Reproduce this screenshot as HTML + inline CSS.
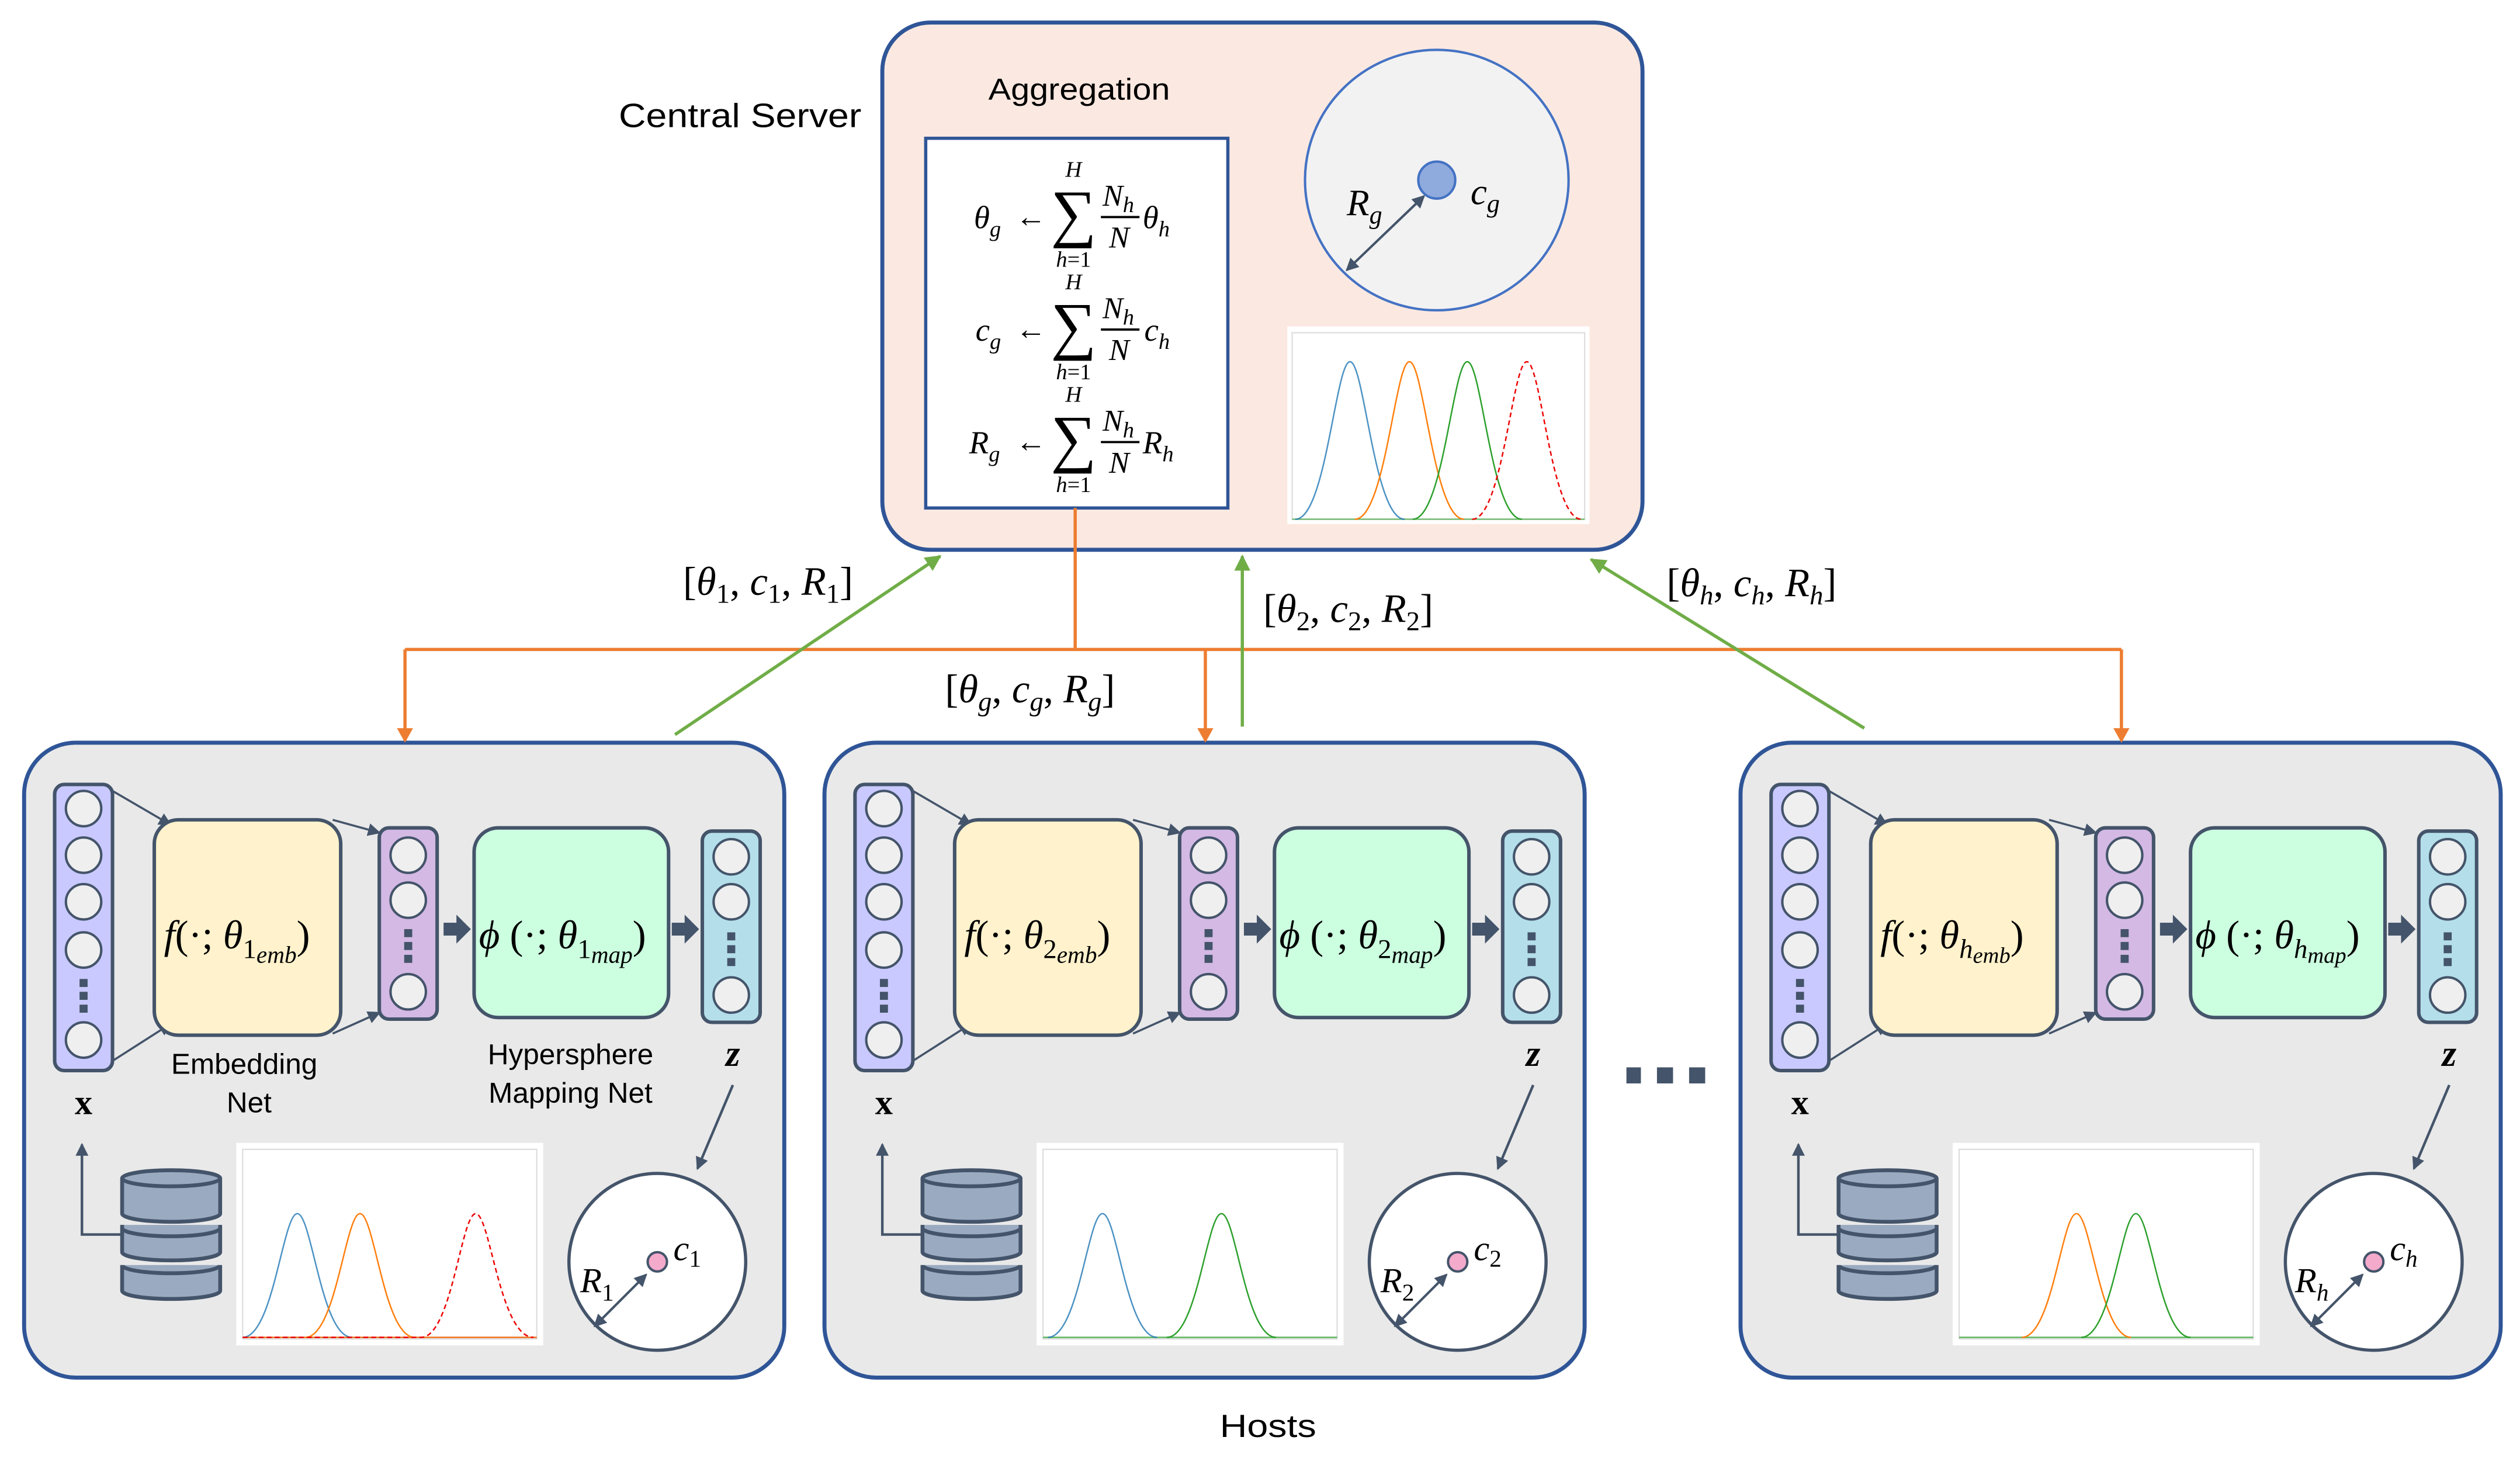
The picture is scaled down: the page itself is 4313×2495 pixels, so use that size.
<!DOCTYPE html>
<html><head><meta charset="utf-8"><style>
html,body{margin:0;padding:0;background:#fff;}
svg{display:block;}
.s{font-family:"Liberation Sans",sans-serif;}
.m{font-family:"Liberation Serif",serif;font-style:italic;}
.r{font-family:"Liberation Serif",serif;}
</style></head><body>
<svg width="4313" height="2495" viewBox="0 0 1568 907" xmlns="http://www.w3.org/2000/svg">
<defs>
<marker id="ad" markerWidth="8" markerHeight="8" refX="7" refY="4" orient="auto" markerUnits="userSpaceOnUse"><path d="M0,0 L8,4 L0,8 z" fill="#44546a"/></marker>
<marker id="as" markerWidth="8" markerHeight="8" refX="1" refY="4" orient="auto" markerUnits="userSpaceOnUse"><path d="M8,0 L0,4 L8,8 z" fill="#44546a"/></marker>
<marker id="ao" markerWidth="9" markerHeight="10" refX="8" refY="5" orient="auto" markerUnits="userSpaceOnUse"><path d="M0,0 L9,5 L0,10 z" fill="#ed7d31"/></marker>
<marker id="ag" markerWidth="10" markerHeight="10" refX="9" refY="5" orient="auto" markerUnits="userSpaceOnUse"><path d="M0,0 L10,5 L0,10 z" fill="#70ad47"/></marker>
</defs>
<g id="host">
  <rect x="15" y="462" width="473" height="395" rx="32" fill="#e9e9e9" stroke="#2f5597" stroke-width="2.5"/>
  <line x1="70" y1="492" x2="106" y2="513" stroke="#44546a" stroke-width="1.3" marker-end="url(#ad)"/>
  <line x1="70" y1="660" x2="106" y2="637" stroke="#44546a" stroke-width="1.3" marker-end="url(#ad)"/>
  <line x1="207" y1="510" x2="236" y2="518" stroke="#44546a" stroke-width="1.3" marker-end="url(#ad)"/>
  <line x1="207" y1="643" x2="236" y2="630" stroke="#44546a" stroke-width="1.3" marker-end="url(#ad)"/>
  <rect x="34" y="488" width="36" height="178" rx="6" fill="#c9c9ff" stroke="#44546a" stroke-width="2.2"/>
  <g fill="#efefef" stroke="#44546a" stroke-width="1.5">
   <circle cx="52" cy="503" r="11"/><circle cx="52" cy="532" r="11"/><circle cx="52" cy="561" r="11"/><circle cx="52" cy="591" r="11"/><circle cx="52" cy="647" r="11"/>
  </g>
  <g fill="#44546a"><rect x="49.5" y="609" width="5" height="5"/><rect x="49.5" y="617" width="5" height="5"/><rect x="49.5" y="625" width="5" height="5"/></g>
  <rect x="96" y="510" width="116" height="134" rx="15" fill="#fff2cc" stroke="#44546a" stroke-width="2.2"/>
  <rect x="236" y="515" width="36" height="119" rx="6" fill="#d3b9e4" stroke="#44546a" stroke-width="2.2"/>
  <g fill="#efefef" stroke="#44546a" stroke-width="1.5"><circle cx="254" cy="532" r="11"/><circle cx="254" cy="560" r="11"/><circle cx="254" cy="617" r="11"/></g>
  <g fill="#44546a"><rect x="251.5" y="578" width="5" height="5"/><rect x="251.5" y="586" width="5" height="5"/><rect x="251.5" y="594" width="5" height="5"/></g>
  <path d="M276,574 h8 v-5 l9,9 l-9,9 v-5 h-8z" fill="#44546a"/>
  <rect x="295" y="515" width="121" height="118" rx="15" fill="#ccffe0" stroke="#44546a" stroke-width="2.2"/>
  <path d="M418,574 h8 v-5 l9,9 l-9,9 v-5 h-8z" fill="#44546a"/>
  <rect x="437" y="517" width="36" height="119" rx="6" fill="#b4dfea" stroke="#44546a" stroke-width="2.2"/>
  <g fill="#efefef" stroke="#44546a" stroke-width="1.5"><circle cx="455" cy="533" r="11"/><circle cx="455" cy="561" r="11"/><circle cx="455" cy="619" r="11"/></g>
  <g fill="#44546a"><rect x="452.5" y="580" width="5" height="5"/><rect x="452.5" y="588" width="5" height="5"/><rect x="452.5" y="596" width="5" height="5"/></g>
  <text x="52" y="693" class="r" font-size="22" font-weight="bold" text-anchor="middle">x</text>
  <text x="456" y="663" class="r" font-size="23" font-weight="bold" font-style="italic" text-anchor="middle">z</text>
  <polyline points="76,768 51,768 51,712" fill="none" stroke="#44546a" stroke-width="1.6" marker-end="url(#ad)"/>
  <g fill="#9aaac0" stroke="#44546a" stroke-width="2.4">
   <path d="M76,787 v16 a30,5 0 0 0 61,0 v-16"/>
   <path d="M76,787 a30,5 0 0 0 61,0"/>
   <path d="M76,762 v17 a30,5 0 0 0 61,0 v-17"/>
   <path d="M76,764 a30,5 0 0 0 61,0"/>
   <path d="M76,733 v22 a30,5 0 0 0 61,0 v-22"/>
   <ellipse cx="106.5" cy="733" rx="30.5" ry="5"/>
  </g>
  <rect x="147" y="711" width="191" height="126" fill="#fff"/>
  <rect x="151" y="715" width="183" height="118" fill="none" stroke="#dddddd" stroke-width="0.8"/>
  <ellipse cx="409" cy="785" rx="55" ry="55" fill="#fff" stroke="#44546a" stroke-width="2"/>
  <circle cx="409" cy="785" r="6" fill="#f4aacb" stroke="#44546a" stroke-width="1.5"/>
  <line x1="456" y1="675" x2="434" y2="727" stroke="#44546a" stroke-width="1.6" marker-end="url(#ad)"/>
  <line x1="370" y1="825" x2="402" y2="793" stroke="#44546a" stroke-width="1.5" marker-end="url(#ad)" marker-start="url(#as)"/>
</g>
<use href="#host" transform="translate(498,0)"/>
<use href="#host" transform="translate(1068,0)"/>

<g class="m" font-size="25">
<text x="102" y="590">f<tspan font-style="normal">(·; </tspan>θ<tspan font-style="normal" font-size="17" dy="6">1</tspan><tspan font-size="15" dy="3">emb</tspan><tspan font-style="normal" font-size="25" dy="-9">)</tspan></text>
<text x="298" y="590">ϕ<tspan font-style="normal"> (·; </tspan>θ<tspan font-style="normal" font-size="17" dy="6">1</tspan><tspan font-size="15" dy="3">map</tspan><tspan font-style="normal" font-size="25" dy="-9">)</tspan></text>
<text x="600" y="590">f<tspan font-style="normal">(·; </tspan>θ<tspan font-style="normal" font-size="17" dy="6">2</tspan><tspan font-size="15" dy="3">emb</tspan><tspan font-style="normal" font-size="25" dy="-9">)</tspan></text>
<text x="796" y="590">ϕ<tspan font-style="normal"> (·; </tspan>θ<tspan font-style="normal" font-size="17" dy="6">2</tspan><tspan font-size="15" dy="3">map</tspan><tspan font-style="normal" font-size="25" dy="-9">)</tspan></text>
<text x="1170" y="590">f<tspan font-style="normal">(·; </tspan>θ<tspan font-size="17" dy="6">h</tspan><tspan font-size="14" dy="3">emb</tspan><tspan font-style="normal" font-size="25" dy="-9">)</tspan></text>
<text x="1366" y="590">ϕ<tspan font-style="normal"> (·; </tspan>θ<tspan font-size="17" dy="6">h</tspan><tspan font-size="14" dy="3">map</tspan><tspan font-style="normal" font-size="25" dy="-9">)</tspan></text>
</g>
<text x="152" y="668" class="s" font-size="18" text-anchor="middle">Embedding</text>
<text x="155" y="692" class="s" font-size="18" text-anchor="middle">Net</text>
<text x="355" y="662" class="s" font-size="18" text-anchor="middle">Hypersphere</text>
<text x="355" y="686" class="s" font-size="18" text-anchor="middle">Mapping Net</text>

<g class="m" font-size="22">
<text x="361" y="804">R<tspan font-style="normal" font-size="15" dy="5">1</tspan></text>
<text x="419" y="784">c<tspan font-style="normal" font-size="15" dy="4">1</tspan></text>
<text x="859" y="804">R<tspan font-style="normal" font-size="15" dy="5">2</tspan></text>
<text x="917" y="784">c<tspan font-style="normal" font-size="15" dy="4">2</tspan></text>
<text x="1428" y="804">R<tspan font-size="15" dy="5">h</tspan></text>
<text x="1487" y="784">c<tspan font-size="15" dy="4">h</tspan></text>
</g>

<path d="M151,832 H334" stroke="#ed7d31" stroke-width="1" fill="none"/>
<path d="M151,832 C170,832 176,755 185,755 C194,755 200,832 219,832" stroke="#1f77b4" stroke-width="0.9" fill="none" opacity="0.8"/>
<path d="M190,832 C209,832 215,755 224,755 C233,755 239,832 258,832" stroke="#ff7f0e" stroke-width="0.9" fill="none"/>
<path d="M151,832 H262 C281,832 287,755 296,755 C305,755 311,832 332,832" stroke="#e00" stroke-width="0.9" stroke-dasharray="3,2" fill="none"/>

<path d="M649,832 H832" stroke="#2ca02c" stroke-width="1" fill="none" opacity="0.7"/>
<path d="M652,832 C671,832 677,755 686,755 C695,755 701,832 720,832" stroke="#1f77b4" stroke-width="0.9" fill="none" opacity="0.8"/>
<path d="M726,832 C745,832 751,755 760,755 C769,755 775,832 794,832" stroke="#2ca02c" stroke-width="0.9" fill="none"/>

<path d="M1219,832 H1402" stroke="#2ca02c" stroke-width="1" fill="none" opacity="0.7"/>
<path d="M1258,832 C1277,832 1283,755 1292,755 C1301,755 1307,832 1326,832" stroke="#ff7f0e" stroke-width="0.9" fill="none"/>
<path d="M1295,832 C1314,832 1320,755 1329,755 C1338,755 1344,832 1363,832" stroke="#2ca02c" stroke-width="0.9" fill="none"/>

<g fill="#44546a"><rect x="1012" y="664" width="9" height="10"/><rect x="1031" y="664" width="10" height="10"/><rect x="1051" y="664" width="10" height="10"/></g>

<rect x="549" y="14" width="473" height="328" rx="30" fill="#fbe9e1" stroke="#2f5597" stroke-width="2.5"/>
<text x="385" y="79" class="s" font-size="21" textLength="151" lengthAdjust="spacingAndGlyphs">Central Server</text>
<text x="615" y="62" class="s" font-size="19" textLength="113" lengthAdjust="spacingAndGlyphs">Aggregation</text>
<rect x="576" y="86" width="188" height="230" fill="#fff" stroke="#2f5597" stroke-width="2"/>
<g class="m">
 <g font-size="20">
  <text x="606" y="142">θ<tspan font-size="14" dy="5">g</tspan></text>
  <text x="607" y="212">c<tspan font-size="14" dy="5">g</tspan></text>
  <text x="603" y="282">R<tspan font-size="14" dy="5">g</tspan></text>
  <text x="711" y="142">θ<tspan font-size="14" dy="5">h</tspan></text>
  <text x="712" y="212">c<tspan font-size="14" dy="5">h</tspan></text>
  <text x="711" y="282">R<tspan font-size="14" dy="5">h</tspan></text>
 </g>
 <g font-style="normal" font-size="19" class="r"><text x="632" y="141">←</text><text x="632" y="211">←</text><text x="632" y="281">←</text></g>
 <g font-style="normal" font-size="40" class="r" text-anchor="middle"><text x="668" y="146">∑</text><text x="668" y="216">∑</text><text x="668" y="286">∑</text></g>
 <g font-size="14" text-anchor="middle"><text x="668" y="110">H</text><text x="668" y="180">H</text><text x="668" y="250">H</text>
 <text x="668" y="166">h<tspan font-style="normal">=1</tspan></text><text x="668" y="236">h<tspan font-style="normal">=1</tspan></text><text x="668" y="306">h<tspan font-style="normal">=1</tspan></text></g>
 <g font-size="19"><text x="686" y="128">N<tspan font-size="14" dy="4">h</tspan></text><text x="690" y="154">N</text>
 <text x="686" y="198">N<tspan font-size="14" dy="4">h</tspan></text><text x="690" y="224">N</text>
 <text x="686" y="268">N<tspan font-size="14" dy="4">h</tspan></text><text x="690" y="294">N</text></g>
 <g stroke="#000" stroke-width="1.4"><line x1="685" y1="135" x2="709" y2="135"/><line x1="685" y1="205" x2="709" y2="205"/><line x1="685" y1="275" x2="709" y2="275"/></g>
</g>
<ellipse cx="894" cy="112" rx="82" ry="81" fill="#f2f2f2" stroke="#4472c4" stroke-width="1.5"/>
<circle cx="894" cy="112" r="11.5" fill="#8faadc" stroke="#4472c4" stroke-width="1.5"/>
<line x1="838" y1="168" x2="886" y2="122" stroke="#44546a" stroke-width="1.5" marker-end="url(#ad)" marker-start="url(#as)"/>
<text x="838" y="134" class="m" font-size="23">R<tspan font-size="16" dy="5">g</tspan></text>
<text x="915" y="127" class="m" font-size="23">c<tspan font-size="16" dy="5">g</tspan></text>
<rect x="801" y="203" width="188" height="123" fill="#fff"/>
<rect x="804" y="207" width="182" height="116" fill="none" stroke="#ddd" stroke-width="0.8"/>
<path d="M804,323 H986" stroke="#2ca02c" stroke-width="0.9" fill="none" opacity="0.6"/>
<path d="M806,323 C825,323 831,225 840,225 C849,225 855,323 874,323" stroke="#1f77b4" stroke-width="0.9" fill="none" opacity="0.8"/>
<path d="M843,323 C862,323 868,225 877,225 C886,225 892,323 911,323" stroke="#ff7f0e" stroke-width="0.9" fill="none"/>
<path d="M879,323 C898,323 904,225 913,225 C922,225 928,323 947,323" stroke="#2ca02c" stroke-width="0.9" fill="none"/>
<path d="M916,323 C935,323 941,225 950,225 C959,225 965,323 984,323" stroke="#e00" stroke-width="0.9" stroke-dasharray="3,2" fill="none"/>

<g stroke="#ed7d31" stroke-width="2" fill="none">
 <polyline points="669,316 669,404"/>
 <polyline points="252,404 1320,404"/>
 <line x1="252" y1="404" x2="252" y2="461" marker-end="url(#ao)"/>
 <line x1="750" y1="404" x2="750" y2="461" marker-end="url(#ao)"/>
 <line x1="1320" y1="404" x2="1320" y2="461" marker-end="url(#ao)"/>
</g>
<g stroke="#70ad47" stroke-width="2" fill="none">
 <line x1="420" y1="457" x2="585" y2="346" marker-end="url(#ag)"/>
 <line x1="773" y1="452" x2="773" y2="346" marker-end="url(#ag)"/>
 <line x1="1160" y1="453" x2="990" y2="348" marker-end="url(#ag)"/>
</g>
<g class="m" font-size="25">
 <text x="425" y="370"><tspan font-style="normal">[</tspan>θ<tspan font-style="normal" font-size="17" dy="5">1</tspan><tspan font-style="normal" dy="-5">, </tspan>c<tspan font-style="normal" font-size="17" dy="5">1</tspan><tspan font-style="normal" dy="-5">, </tspan>R<tspan font-style="normal" font-size="17" dy="5">1</tspan><tspan font-style="normal" dy="-5">]</tspan></text>
 <text x="786" y="387"><tspan font-style="normal">[</tspan>θ<tspan font-style="normal" font-size="17" dy="5">2</tspan><tspan font-style="normal" dy="-5">, </tspan>c<tspan font-style="normal" font-size="17" dy="5">2</tspan><tspan font-style="normal" dy="-5">, </tspan>R<tspan font-style="normal" font-size="17" dy="5">2</tspan><tspan font-style="normal" dy="-5">]</tspan></text>
 <text x="588" y="437"><tspan font-style="normal">[</tspan>θ<tspan font-size="17" dy="5">g</tspan><tspan font-style="normal" dy="-5">, </tspan>c<tspan font-size="17" dy="5">g</tspan><tspan font-style="normal" dy="-5">, </tspan>R<tspan font-size="17" dy="5">g</tspan><tspan font-style="normal" dy="-5">]</tspan></text>
 <text x="1037" y="371"><tspan font-style="normal">[</tspan>θ<tspan font-size="17" dy="5">h</tspan><tspan font-style="normal" dy="-5">, </tspan>c<tspan font-size="17" dy="5">h</tspan><tspan font-style="normal" dy="-5">, </tspan>R<tspan font-size="17" dy="5">h</tspan><tspan font-style="normal" dy="-5">]</tspan></text>
</g>
<text x="759" y="894" class="s" font-size="20" textLength="60" lengthAdjust="spacingAndGlyphs">Hosts</text>
</svg>
</body></html>
